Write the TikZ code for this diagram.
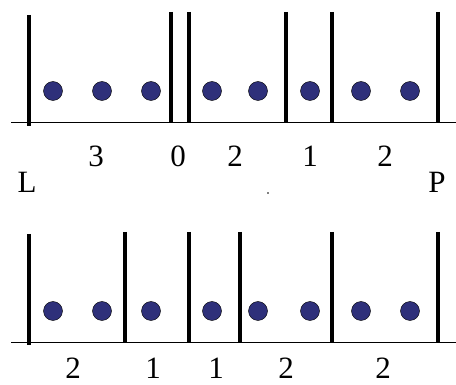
\documentclass[tikz,border=0pt]{standalone}
\usepackage{fontspec}
\setmainfont{Liberation Serif}
\usepackage{tikz}
\usetikzlibrary{arrows.meta}
\definecolor{dotblue}{RGB}{46,48,122}

\begin{document}
\begin{tikzpicture}[x=1pt,y=-1pt,>=Stealth,
    wall/.style={line width=3.2pt},
    ball/.style={draw=black,line width=0.4pt,fill=dotblue},
    lab/.style={anchor=base,inner sep=0pt,font=\fontsize{31}{31}\selectfont}]
            \useasboundingbox (0,0) rectangle (456,385);
            % upper row
            \draw [line width=1pt] (11,123) -- (456,123);
            \draw [wall] (29,15) -- (29,126);
            \draw [wall] (171,12) -- (171,123);
            \draw [wall] (189,12) -- (189,123);
            \draw [wall] (286,12) -- (286,123);
            \draw [wall] (332,12) -- (332,123);
            \draw [wall] (438,12) -- (438,123);
            \foreach \x in {53,102,151,212,258,310,361,410}
                \draw [ball] (\x,91) circle [radius=9.5];
            \node [lab] (n3) at (96,167) {3};
            \node [lab] (n0) at (178,167) {0};
            \node [lab] (n2a) at (235,167) {2};
            \node [lab] (n1) at (310,167) {1};
            \node [lab] (n2b) at (385,167) {2};
            \node [lab] (L) at (27,193) {L};
            \node [lab] (P) at (437,193) {P};
            \fill (268,193) circle [radius=0.8];
            % lower row
            \draw [line width=1pt] (11,343) -- (456,343);
            \draw [wall] (29,234) -- (29,345);
            \draw [wall] (125,232) -- (125,343);
            \draw [wall] (189,232) -- (189,343);
            \draw [wall] (240,232) -- (240,343);
            \draw [wall] (332,232) -- (332,343);
            \draw [wall] (438,232) -- (438,343);
            \foreach \x in {53,102,151,212,258,310,361,410}
                \draw [ball] (\x,311) circle [radius=9.5];
            \node [lab] (m2a) at (73,379) {2};
            \node [lab] (m1a) at (153,379) {1};
            \node [lab] (m1b) at (216,379) {1};
            \node [lab] (m2b) at (286,379) {2};
            \node [lab] (m2c) at (383,379) {2};
        \end{tikzpicture}
\end{document}
